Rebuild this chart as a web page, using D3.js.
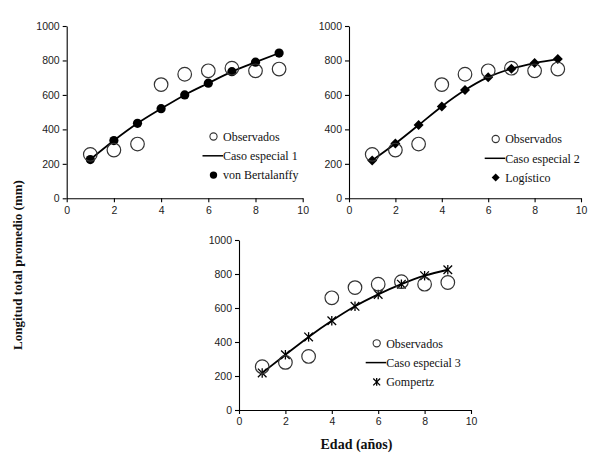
<!DOCTYPE html>
<html><head><meta charset="utf-8">
<script src="https://cdn.jsdelivr.net/npm/d3@7"></script>
<style>body{margin:0;background:#fff}</style>
</head><body>
<svg id="c" width="593" height="458"></svg>
<script>
const ages = [1,2,3,4,5,6,7,8,9];
const observados = [255,280,315,660,720,740,755,740,750];
const vonBertalanffy = [225,335,435,520,600,668,735,790,843];
const logistico = [220,318,425,533,628,703,752,785,808];
const gompertz = [218,325,430,525,610,680,740,790,825];
const xTicks = [0,2,4,6,8,10];
const yTicks = [0,200,400,600,800,1000];
const legendObs = "Observados";
const legendCase = ["Caso especial 1","Caso especial 2","Caso especial 3"];
const legendModel = ["von Bertalanffy","Logístico","Gompertz"];
const yLabel = "Longitud total promedio  (mm)";
const xLabel = "Edad (años)";

const svg = d3.select("#c");
const panels = [
  {x0:66.7, x1:302.7, y0:198.3, y1:26, model:vonBertalanffy, marker:"circle", lx:213.5, ly:136.5},
  {x0:349, x1:581, y0:198.3, y1:26, model:logistico, marker:"diamond", lx:495.7, ly:139},
  {x0:239, x1:471, y0:410, y1:240, model:gompertz, marker:"star", lx:376.7, ly:343.3}
];

function drawMarker(g, type, cx, cy, s) {
  if (type === "circle") {
    g.append("circle").attr("cx",cx).attr("cy",cy).attr("r",4.6*s).attr("fill","#000");
  } else if (type === "diamond") {
    const r = 5*s;
    g.append("path").attr("d", `M0,${-r}L${r},0L0,${r}L${-r},0Z`)
      .attr("transform",`translate(${cx},${cy})`).attr("fill","#000");
  } else if (type === "star") {
    const r = 4.3*s;
    const gg = g.append("g").attr("transform",`translate(${cx},${cy})`)
      .attr("stroke","#000").attr("stroke-width",1.3);
    gg.append("line").attr("x1",-r).attr("y1",-r).attr("x2",r).attr("y2",r);
    gg.append("line").attr("x1",-r).attr("y1",r).attr("x2",r).attr("y2",-r);
    gg.append("line").attr("x1",0).attr("y1",-r*1.1).attr("x2",0).attr("y2",r*1.1);
  }
}

panels.forEach((p,i) => {
  const x = d3.scaleLinear().domain([0,10]).range([p.x0,p.x1]);
  const y = d3.scaleLinear().domain([0,1000]).range([p.y0,p.y1]);
  const g = svg.append("g");

  const xa = g.append("g").attr("transform",`translate(0,${p.y0})`)
    .call(d3.axisBottom(x).tickValues(xTicks).tickFormat(d3.format("d")).tickSize(4).tickPadding(4).tickSizeOuter(0));
  const ya = g.append("g").attr("transform",`translate(${p.x0},0)`)
    .call(d3.axisLeft(y).tickValues(yTicks).tickFormat(d3.format("d")).tickSize(4).tickPadding(3).tickSizeOuter(0));
  [xa,ya].forEach(a => {
    a.selectAll("path,line").attr("stroke","#000").attr("stroke-width",1.1);
    a.selectAll("text").attr("font-family","Liberation Sans, Arial, sans-serif")
      .attr("font-size",10.5).attr("fill","#222");
  });

  // fitted line
  g.append("path").datum(ages.map((a,k)=>[a,p.model[k]]))
    .attr("d", d3.line().x(d=>x(d[0])).y(d=>y(d[1])).curve(d3.curveMonotoneX))
    .attr("fill","none").attr("stroke","#000").attr("stroke-width",1.8);

  // model markers
  ages.forEach((a,k) => drawMarker(g, p.marker, x(a), y(p.model[k]), 1));

  // observed circles
  g.selectAll("circle.obs").data(ages).enter().append("circle").attr("class","obs")
    .attr("cx",d=>x(d)).attr("cy",(d,k)=>y(observados[k])).attr("r",6.8)
    .attr("fill","none").attr("stroke","#333").attr("stroke-width",1.2);

  // legend
  const lg = g.append("g").attr("font-family","Liberation Serif, Times New Roman, serif")
    .attr("font-size",12).attr("fill","#111");
  const tx = p.lx + 9.5, dy = 19.3;
  lg.append("circle").attr("cx",p.lx).attr("cy",p.ly).attr("r",3.6)
    .attr("fill","none").attr("stroke","#333").attr("stroke-width",1.1);
  lg.append("text").attr("x",tx).attr("y",p.ly).attr("dy","0.35em").text(legendObs);
  lg.append("line").attr("x1",p.lx-11).attr("x2",tx).attr("y1",p.ly+dy).attr("y2",p.ly+dy)
    .attr("stroke","#000").attr("stroke-width",1.5);
  lg.append("text").attr("x",tx).attr("y",p.ly+dy).attr("dy","0.35em").text(legendCase[i]);
  drawMarker(lg, p.marker, p.lx, p.ly+2*dy, 0.8);
  lg.append("text").attr("x",tx).attr("y",p.ly+2*dy).attr("dy","0.35em").text(legendModel[i]);
});

svg.append("text").attr("transform","translate(22,265) rotate(-90)")
  .attr("text-anchor","middle").attr("font-family","Liberation Serif, Times New Roman, serif")
  .attr("font-weight","bold").attr("font-size",13).attr("fill","#111").text(yLabel);
svg.append("text").attr("x",356.5).attr("y",449)
  .attr("text-anchor","middle").attr("font-family","Liberation Serif, Times New Roman, serif")
  .attr("font-weight","bold").attr("font-size",14).attr("fill","#111").text(xLabel);
</script>
</body></html>
